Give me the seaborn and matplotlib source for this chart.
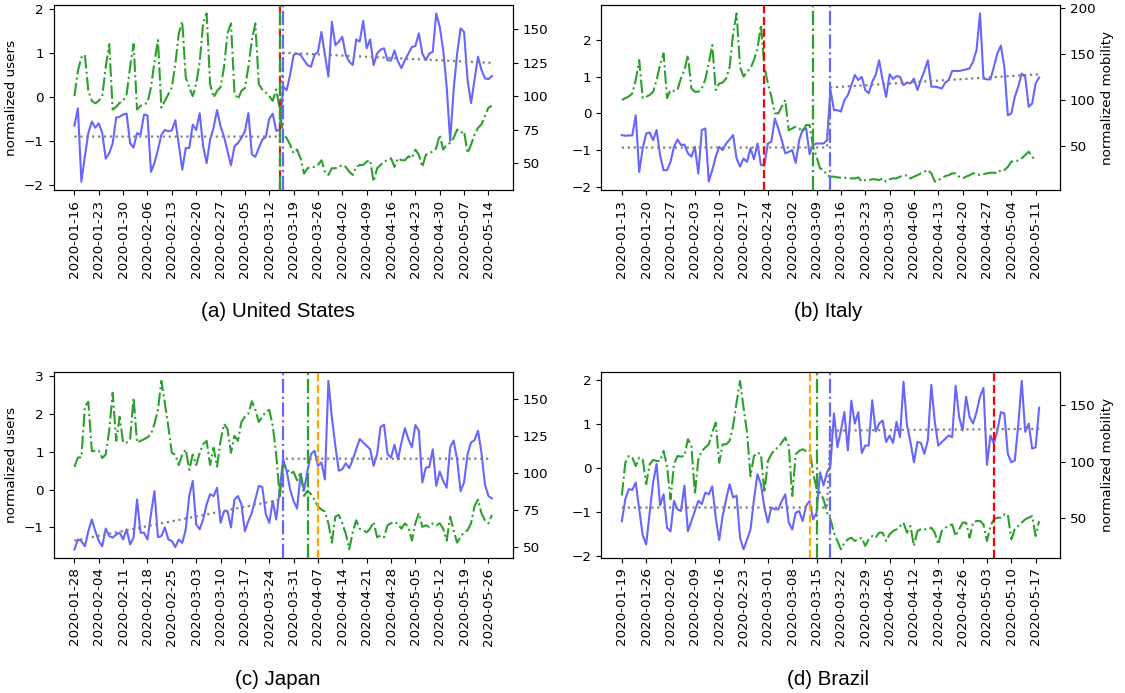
import pandas as pd
import matplotlib
matplotlib.use('Agg')
import matplotlib.pyplot as plt
import matplotlib.ticker as ticker
import matplotlib.dates as mdates
import seaborn as sns


# ── Data ──────────────────────────────────────────────────────────────────────

# (a) United States
US_START = '2020-01-16'
us_users = [
    -0.65, -0.26, -1.92, -1.35, -0.82, -0.56, -0.70, -0.60, -0.82, -1.40,
    -1.28, -1.05, -0.47, -0.45, -0.40, -0.38, -1.05, -1.15, -0.82, -0.86,
    -0.40, -0.42, -1.70, -1.50, -1.20, -0.86, -0.75, -0.78, -0.76, -0.53,
    -1.08, -1.65, -1.16, -1.16, -0.63, -0.75, -0.37, -1.12, -1.50, -0.97,
    -0.70, -0.30, -0.67, -0.90, -1.23, -1.55, -1.12, -1.05, -0.93, -0.78,
    -0.37, -1.30, -1.36, -1.16, -0.97, -0.91, -0.50, -0.38, -0.77, -0.75,
    0.23, 0.15, 0.50, 0.95, 0.98, 0.95, 0.83, 0.72, 0.68, 0.95,
    1.02, 1.47, 0.95, 0.46, 1.70, 1.17, 1.25, 1.36, 0.95, 0.80,
    0.72, 1.30, 1.25, 1.72, 1.10, 1.30, 0.72, 0.98, 1.07, 1.10,
    0.83, 0.82, 1.05, 0.80, 0.65, 0.83, 0.98, 1.13, 1.15, 1.44,
    0.98, 0.83, 0.98, 1.02, 1.89, 1.59, 1.06, 0.23, -1.00, 0.16,
    0.98, 1.55, 1.47, 0.38, -0.14, 0.38, 0.91, 0.61, 0.42, 0.40, 0.47,
]
us_mobility = [
    100, 119, 129, 131, 104, 96.5, 94.7, 96.5, 100, 121.7,
    139, 90, 92, 95, 96.5, 101.5, 121.7, 139, 90, 92.7,
    94, 95, 106.6, 125.5, 142, 91.4, 96.5, 101.5, 106.6, 124,
    147, 155.8, 114, 106.6, 100, 109, 125.5, 154.5, 162, 109,
    99, 104, 106.6, 121.7, 147, 154.5, 102.8, 97.7, 104, 106,
    121.7, 142, 154.5, 109, 105, 102.8, 100, 96.5, 105, 91,
    71, 68.7, 63.6, 57.3, 60, 53.5, 42, 46, 47, 47,
    48.5, 52, 43.4, 41, 46, 46, 47, 48.5, 47, 43.4,
    41, 47, 48.5, 48.5, 51, 52, 36, 46, 48.5, 51,
    52, 53.5, 47, 53.5, 52, 52, 55, 53.5, 60, 56,
    47, 56, 57.3, 58.6, 61, 71, 60, 63.6, 65, 68.7,
    75, 72.5, 73.7, 57.3, 63.6, 71, 76.3, 78.8, 85, 91.4, 92.7,
]
us_trend_dates = ['2020-01-16', '2020-03-15', '2020-03-16', '2020-05-15']
us_trend_values = [-0.90, -0.90, 1.00, 0.77]
us_events = {'policy': '2020-03-15', 'mobility_cp': '2020-03-15', 'users_cp': '2020-03-16'}

# (b) Italy
IT_START = '2020-01-13'
it_users = [
    -0.59, -0.61, -0.60, -0.60, -0.05, -1.60, -0.95, -0.55, -0.52, -0.73,
    -0.45, -1.14, -1.55, -1.55, -1.32, -0.91, -0.71, -0.86, -0.85, -1.09,
    -1.18, -0.91, -1.64, -0.45, -0.41, -1.86, -1.55, -1.18, -0.91, -1.00,
    -0.82, -0.71, -0.59, -1.23, -1.45, -1.23, -1.32, -0.95, -1.25, -0.82,
    -1.41, -1.41, -0.82, -0.77, -0.14, -0.41, -0.73, -1.09, -1.05, -1.00,
    -1.35, -0.73, -0.44, -0.41, -1.11, -0.86, -0.82, -0.82, -0.82, -0.73,
    0.64, 0.09, 0.09, 0.05, 0.36, 0.50, 0.77, 1.05, 0.91, 1.00,
    0.64, 0.55, 0.86, 1.05, 1.45, 0.91, 0.45, 1.07, 0.94, 1.02,
    1.00, 0.77, 0.84, 0.82, 0.95, 0.64, 0.91, 1.16, 1.45, 0.73,
    0.73, 0.71, 0.68, 0.84, 0.91, 1.16, 1.16, 1.16, 1.18, 1.20,
    1.23, 1.41, 1.73, 2.73, 0.95, 0.93, 0.93, 1.27, 1.64, 1.85,
    1.27, -0.05, 0.00, 0.45, 0.73, 1.09, 1.00, 0.18, 0.27, 0.82, 0.98,
]
it_mobility = [
    100, 102, 104, 107, 122, 143.6, 102, 103.6, 105.5, 109,
    122, 138, 151, 102, 111, 110, 111, 123.6, 132.7, 149,
    112.7, 109, 109, 112.7, 122.5, 140, 160, 111, 118, 119,
    123.6, 136, 172.7, 194.5, 136, 125.5, 131, 134.5, 143.6, 156,
    181.8, 136, 118, 103.6, 85.5, 85.5, 92.7, 100, 67, 69,
    71, 69, 65.5, 72.7, 72.7, 49, 38, 25.5, 23.6, 18,
    16.4, 16.4, 15.6, 15.3, 15.3, 14.5, 14.5, 14.5, 15.6, 11,
    12.7, 12.7, 13.5, 13.5, 12.7, 14.5, 11, 13.5, 14.5, 14.5,
    16.4, 17, 18, 14.5, 16.4, 18, 20, 21.8, 23.6, 20,
    11, 12.7, 14.5, 17, 18, 20, 20, 16.4, 14.5, 16.4,
    18, 20, 20, 18, 19, 20, 20.7, 20.7, 20, 23.6,
    23.6, 27, 32.7, 33.8, 33.8, 36.4, 40, 43.6, 38, 34.5,
]
it_trend_dates = ['2020-01-13', '2020-03-12', '2020-03-13', '2020-05-12']
it_trend_values = [-0.93, -0.93, 0.71, 1.07]
it_events = {'policy': '2020-02-23', 'mobility_cp': '2020-03-08', 'users_cp': '2020-03-13'}

# (c) Japan
JP_START = '2020-01-28'
jp_users = [
    -1.58, -1.32, -1.36, -1.50, -1.10, -0.79, -1.10, -1.36, -1.50, -1.03,
    -1.23, -1.27, -1.19, -1.14, -1.32, -1.05, -1.45, -1.27, -0.26, -1.14,
    -1.14, -1.32, -0.65, -0.04, -1.26, -1.23, -1.00, -1.32, -1.36, -1.52,
    -1.32, -1.41, -1.05, -0.17, 0.23, -0.92, -1.05, -0.79, -0.39, -0.12,
    -0.17, 0.05, -0.88, -0.57, -0.57, -1.00, -0.26, -0.17, -0.39, -1.10,
    -0.83, -0.61, -0.26, 0.10, 0.07, -0.65, -0.88, -0.30, -0.79, 0.00,
    0.80, 0.50, 0.00, -0.30, -0.50, 0.40, -0.02, 0.50, 0.94, 1.03,
    0.63, 0.72, 0.27, 2.88, 1.91, 1.16, 0.50, 0.54, 0.70, 0.57,
    0.80, 1.07, 1.34, 1.25, 1.16, 1.07, 0.63, 0.94, 1.66, 1.72,
    0.94, 0.85, 1.19, 0.80, 1.25, 1.63, 1.34, 1.12, 1.71, 1.56,
    0.19, 0.58, 0.60, 1.07, 0.10, 0.48, 0.23, 0.05, 1.12, 1.30,
    0.80, -0.04, 0.19, 0.94, 1.25, 1.31, 1.56, 0.98, 0.14, -0.17, -0.23,
]
jp_mobility = [
    104, 110.4, 110.4, 144.8, 148, 114.6, 115, 115, 110, 112.5,
    128.5, 154, 121.6, 137.8, 120.4, 120.4, 122.7, 150.6, 120.4, 121.6,
    122.7, 124, 126, 133, 142.5, 162, 147, 131, 113.5, 112.3,
    105.3, 112.3, 115.8, 102, 112.3, 105.3, 113.5, 119.3, 121.6, 105.3,
    117, 104.2, 121.6, 133, 129.7, 113.5, 125, 121.6, 134.3, 137.8,
    140, 148.3, 142.5, 134.3, 137.8, 141.3, 142.5, 132, 112.3, 84.5,
    105.3, 103, 99.5, 100.7, 95, 100.7, 84.5, 88, 85.6, 82,
    77.5, 75.2, 74, 66, 53, 70.5, 71.7, 66, 59, 48.5,
    60, 68, 62.4, 61.3, 60, 62.4, 67, 56.6, 57.8, 56.6,
    64.7, 66, 67, 65.5, 62.4, 66, 63.6, 54.3, 66, 72.9,
    63.6, 64.7, 63.6, 66, 64.7, 66, 62.4, 54.3, 70.5, 61.3,
    53, 57, 60, 61.3, 66, 77.5, 82, 72.9, 68, 66, 71.7,
]
jp_trend_dates = ['2020-01-28', '2020-03-27', '2020-03-28', '2020-05-27']
jp_trend_values = [-1.35, -0.27, 0.82, 0.82]
jp_events = {'users_cp': '2020-03-28', 'mobility_cp': '2020-04-04', 'emergency': '2020-04-07'}

# (d) Brazil
BR_START = '2020-01-19'
br_users = [
    -1.21, -0.71, -0.48, -0.50, -0.33, -0.94, -1.53, -1.74, -1.02, -0.33,
    0.09, -0.85, -0.60, -1.36, -1.44, -0.75, -0.94, -0.98, -0.40, -1.44,
    -1.21, -0.98, -0.75, -0.82, -0.56, -0.60, -0.42, -1.13, -1.64, -1.09,
    -0.71, -0.37, -0.67, -0.63, -1.59, -1.85, -1.63, -1.40, -0.71, -0.14,
    -0.37, -0.90, -1.24, -0.90, -0.94, -0.94, -0.75, -0.60, -1.24, -1.40,
    -1.02, -0.98, -1.21, -0.86, -0.75, -1.17, -1.02, -0.10, -0.40, -0.10,
    0.05, 1.24, 0.47, 0.85, 1.27, 0.40, 1.53, 1.01, 1.27, 0.34,
    0.51, 0.51, 1.54, 0.83, 1.01, 1.08, 0.59, 0.74, 0.57, 1.05,
    0.70, 1.96, 0.97, 0.59, 0.13, 0.59, 0.57, 0.32, 0.63, 1.89,
    1.05, 0.51, 0.59, 0.66, 0.74, 0.70, 1.87, 1.16, 0.85, 1.62,
    1.16, 1.01, 1.27, 1.62, 1.82, 0.07, 0.74, 0.55, 0.85, 1.27,
    1.24, 0.32, 0.13, 0.17, 0.97, 1.98, 0.82, 1.01, 0.44, 0.47, 1.37,
]
br_mobility = [
    70, 99, 105, 103.6, 96, 103.6, 102, 80, 97.6, 101.5,
    100.6, 100.6, 109.5, 96, 66.5, 97.6, 105, 104.5, 105, 120,
    114, 71, 102, 109.5, 112.5, 115.4, 126, 134.7, 99, 115.4,
    115.4, 118.4, 131.8, 152.5, 171.8, 148, 126, 87, 105, 108,
    106.5, 72.4, 100.6, 106.5, 111, 112.5, 117, 121.4, 114, 69.4,
    106.5, 109.5, 111, 109.5, 111, 90, 76, 72.4, 66.5, 54.6,
    48.7, 36.8, 29.4, 22, 27.9, 30.9, 32.3, 29.4, 30.9, 32.3,
    25, 30.9, 33.8, 32.3, 36.8, 36.8, 29.4, 35.3, 38.3, 39.8,
    42.7, 45.7, 36.8, 42.7, 25, 38.3, 39.8, 39.8, 39.8, 41.2,
    36.8, 26.4, 38.3, 41.2, 42.7, 44.2, 33.8, 39.8, 45.7, 45.7,
    32.3, 45.7, 47.2, 47.2, 44.2, 29.4, 42.7, 48.7, 50.1, 50.1,
    53.1, 53.1, 30.9, 39.8, 42.7, 45.7, 48.7, 50.1, 51.6, 33.8, 47.2,
]
br_trend_dates = ['2020-01-19', '2020-03-18', '2020-03-19', '2020-05-18']
br_trend_values = [-0.90, -0.90, 0.85, 0.89]
br_events = {'emergency': '2020-03-13', 'mobility_cp': '2020-03-15',
             'users_cp': '2020-03-19', 'policy': '2020-05-05'}


# ── Style ─────────────────────────────────────────────────────────────────────

BLUE = '#6666ff'
GREEN = '#2ca02c'
EVENT_STYLE = {
    'policy':      dict(color='red', linestyle='--'),
    'mobility_cp': dict(color=GREEN, linestyle='-.'),
    'users_cp':    dict(color=BLUE, linestyle='-.'),
    'emergency':   dict(color='orange', linestyle='--'),
}

plt.rcParams['font.size'] = 9.7


def series(start, values):
    return pd.DataFrame({'date': pd.date_range(start, periods=len(values), freq='D'),
                         'value': values})


def draw_panel(ax, start, users, mobility, trend_dates, trend_values, events,
               right_step, left_label=None, right_label=None):
    ax2 = ax.twinx()

    u = series(start, users)
    m = series(start, mobility)
    t = pd.DataFrame({'date': pd.to_datetime(trend_dates), 'value': trend_values})

    sns.lineplot(data=u, x='date', y='value', ax=ax, color=BLUE, linewidth=1.5)
    sns.lineplot(data=t, x='date', y='value', ax=ax, color='gray', linestyle=':', linewidth=1.6)
    sns.lineplot(data=m, x='date', y='value', ax=ax2, color=GREEN, linestyle='-.', linewidth=1.5)

    for kind, day in events.items():
        ax2.axvline(pd.Timestamp(day), linewidth=1.6, **EVENT_STYLE[kind])

    ticks = pd.date_range(start, u['date'].iloc[-1], freq='7D')
    ax.set_xticks(ticks)
    ax.xaxis.set_major_formatter(mdates.DateFormatter('%Y-%m-%d'))
    ax.tick_params(axis='x', labelrotation=90)
    ax.yaxis.set_major_locator(ticker.MultipleLocator(1))
    ax2.yaxis.set_major_locator(ticker.MultipleLocator(right_step))

    ax.set_xlabel('')
    ax2.set_xlabel('')
    ax.set_ylabel(left_label if left_label else '')
    ax2.set_ylabel(right_label if right_label else '')


fig = plt.figure(figsize=(11.25, 6.93), dpi=100)

ax_a = fig.add_axes([0.0476, 0.7258, 0.4082, 0.2670])
ax_b = fig.add_axes([0.5342, 0.7258, 0.4080, 0.2670])
ax_c = fig.add_axes([0.0476, 0.1952, 0.4082, 0.2673])
ax_d = fig.add_axes([0.5342, 0.1952, 0.4080, 0.2673])

draw_panel(ax_a, US_START, us_users, us_mobility, us_trend_dates, us_trend_values,
           us_events, 25, left_label='normalized users')
draw_panel(ax_b, IT_START, it_users, it_mobility, it_trend_dates, it_trend_values,
           it_events, 50, right_label='normalized mobility')
draw_panel(ax_c, JP_START, jp_users, jp_mobility, jp_trend_dates, jp_trend_values,
           jp_events, 25, left_label='normalized users')
draw_panel(ax_d, BR_START, br_users, br_mobility, br_trend_dates, br_trend_values,
           br_events, 50, right_label='normalized mobility')

caption_font = dict(fontsize=14.8, family=['Liberation Sans', 'DejaVu Sans'], ha='center', va='center')
fig.text(0.2471, 0.5505, '(a) United States', **caption_font)
fig.text(0.7360, 0.5505, '(b) Italy', **caption_font)
fig.text(0.2471, 0.0200, '(c) Japan', **caption_font)
fig.text(0.7360, 0.0200, '(d) Brazil', **caption_font)

fig.savefig('out.png', dpi=100)
